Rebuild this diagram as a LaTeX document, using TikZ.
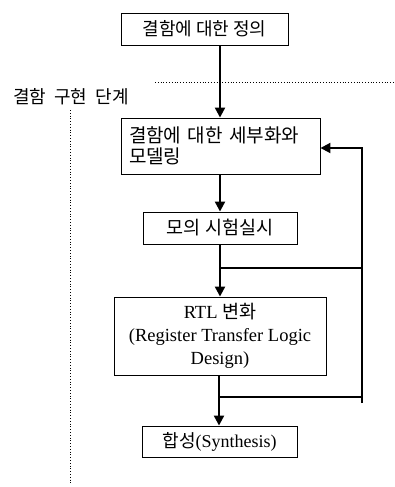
\documentclass[tikz,border=0pt]{standalone}
\usepackage{fontspec}
\setmainfont{Liberation Serif}
\newfontfamily\kr{Noto Sans CJK KR}
\usetikzlibrary{arrows.meta,calc}
\begin{document}
\begin{tikzpicture}[x=1pt,y=-1pt,
  box/.style={draw,line width=0.9pt,inner sep=0pt,anchor=center},
  flow/.style={line width=2.2pt,-{Triangle[length=10pt,width=10pt]}},
  bar/.style={line width=2pt},
  guide/.style={line width=0.8pt,dotted}]
\useasboundingbox (0,0) rectangle (395,487);
\fill[white] (0,0) rectangle (395,487);
\node[box,minimum width=167pt,minimum height=32pt,font=\kr\fontsize{18}{20}\selectfont] (b1) at (204.5,29)
  {결함에 대한 정의};
\node[box,minimum width=199pt,minimum height=56pt,text width=183pt,align=left,
  font=\kr\fontsize{19}{21}\selectfont] (b2) at (220.5,146)
  {결함에 대한 세부화와\\모델링};
\node[box,minimum width=154pt,minimum height=32pt,font=\kr\fontsize{18.5}{20}\selectfont] (b3) at (220,228)
  {모의 시험실시};
\node[box,minimum width=212pt,minimum height=78pt,align=center,
  font=\fontsize{18.5}{23}\selectfont] (b4) at (220,336)
  {RTL {\kr 변화}\\(Register Transfer Logic\\Design)};
\node[box,minimum width=155pt,minimum height=31pt,font=\fontsize{18}{20}\selectfont] (b5) at (219.5,441.5)
  {{\kr 합성}(Synthesis)};
\node[inner sep=0pt,font=\kr\fontsize{18}{20}\selectfont] (lab) at (71,97) {결함\hspace{4pt} 구현\hspace{4pt} 단계};
\coordinate (g1) at (155,82);
\coordinate (g2) at (395,82);
\coordinate (g3) at (70,110);
\coordinate (g4) at (70,485);
\draw[guide] (g1) -- (g2);
\draw[guide] (g3) -- (g4);
\coordinate (j1) at (220,268);
\coordinate (k1) at (362,268);
\coordinate (j2) at (219,397);
\coordinate (k2) at (362,397);
\coordinate (k0) at (362,403);
\coordinate (k3) at (362,148);
\draw[flow] (b1.south -| b3.north) -- (b2.north -| b3.north);
\draw[flow] (b2.south -| b3.north) -- (b3.north);
\draw[flow] (b3.south) -- (b4.north -| b3.south);
\draw[flow] (b4.south -| j2) -- (b5.north -| j2);
\draw[bar] (j1) -- (k1);
\draw[bar] (j2) -- (k2);
\draw[line width=1.3pt] (k0) -- (k3);
\draw[bar,-{Triangle[length=10pt,width=10pt]}] ([xshift=0.65pt]k3) -- (b2.east |- k3);
\end{tikzpicture}
\end{document}
